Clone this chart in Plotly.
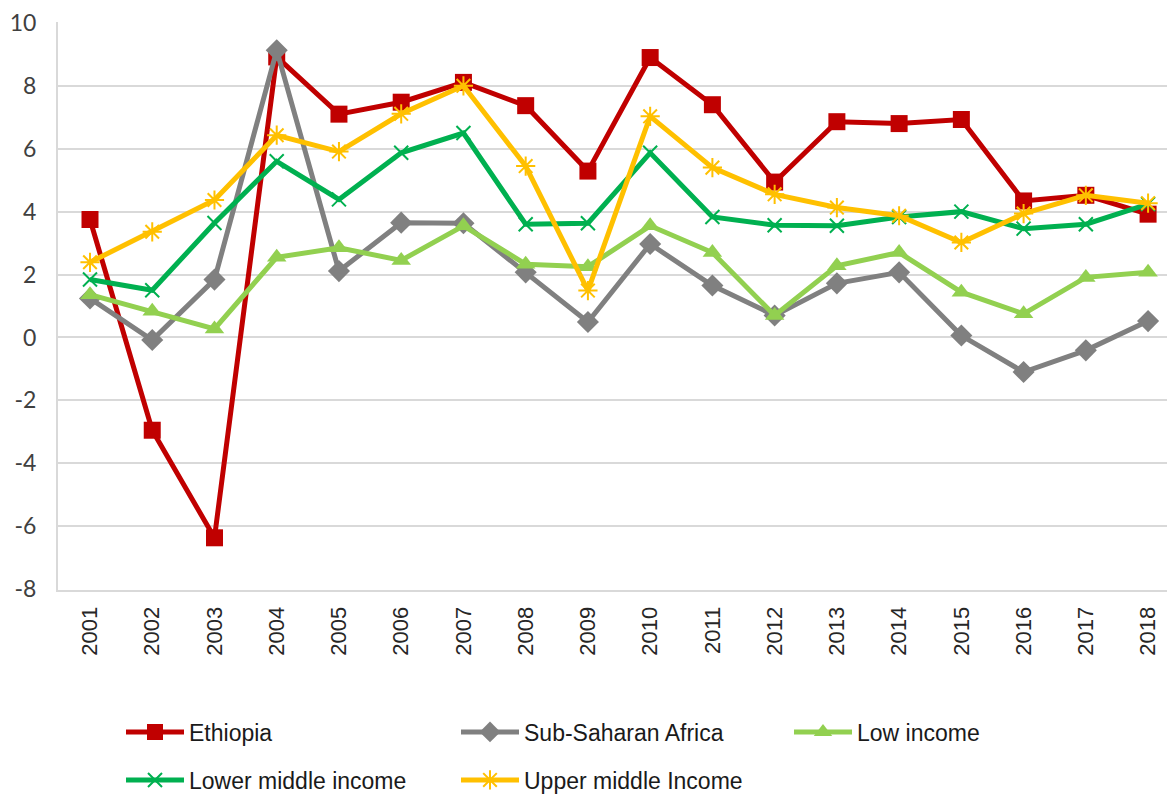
import plotly.graph_objects as go

years = [str(y) for y in range(2001, 2019)]

ethiopia = [3.75, -2.95, -6.37, 8.92, 7.10, 7.48, 8.11, 7.37, 5.29, 8.90, 7.40, 4.94, 6.86, 6.80, 6.93, 4.34, 4.52, 3.92]
ssa = [1.24, -0.08, 1.84, 9.13, 2.11, 3.65, 3.63, 2.07, 0.49, 2.97, 1.65, 0.70, 1.72, 2.07, 0.06, -1.10, -0.41, 0.52]
low_income = [1.36, 0.83, 0.27, 2.55, 2.85, 2.45, 3.55, 2.33, 2.25, 3.55, 2.70, 0.70, 2.28, 2.70, 1.44, 0.75, 1.91, 2.07]
lower_middle = [1.84, 1.50, 3.64, 5.60, 4.39, 5.87, 6.50, 3.60, 3.63, 5.87, 3.83, 3.57, 3.55, 3.83, 4.00, 3.46, 3.60, 4.24]
upper_middle = [2.39, 3.36, 4.37, 6.43, 5.91, 7.11, 8.00, 5.45, 1.49, 7.03, 5.40, 4.55, 4.13, 3.87, 3.02, 3.94, 4.52, 4.27]

y_tickvals = [-8, -6, -4, -2, 0, 2, 4, 6, 8, 10]
y_ticktext = ["-8", "-6", "-4", "-2", "0", "2", "4", "6", "8", "10"]

# the page body has an 8px margin, so the figure is drawn 8px right/down
OFF = 8
W, H = 1175 - OFF, 794 - OFF
L, R, T, B = 58 - OFF, 0, 22 - OFF, 794 - 590
pw = W - L - R
ph = H - T - B

def px_x(px):
    return (px - OFF - L) / pw

def px_y(py):
    return (H - B - (py - OFF)) / ph

series = [
    ("Ethiopia", ethiopia, "#C00000", dict(symbol="square", size=17), "legend", 129, 732),
    ("Sub-Saharan Africa", ssa, "#808080", dict(symbol="diamond", size=17), "legend2", 464, 732),
    ("Low income", low_income, "#92D050", dict(symbol="triangle-up", size=17), "legend3", 797, 732),
    ("Lower middle income", lower_middle, "#00B050", dict(symbol="x-thin", size=14, line=dict(width=2, color="#00B050")), "legend4", 129, 780),
    ("Upper middle Income", upper_middle, "#FFC000", dict(symbol="asterisk", size=16, line=dict(width=2, color="#FFC000")), "legend5", 464, 780),
]

fig = go.Figure()
legend_layouts = {}
for name, vals, color, marker, lg, lx, ly in series:
    m = dict(color=color, **marker)
    fig.add_trace(go.Scatter(
        x=years, y=vals, name=name, mode="lines+markers",
        line=dict(color=color, width=5),
        marker=m, cliponaxis=False, legend=lg,
    ))
    legend_layouts[lg] = dict(
        x=px_x(lx - 8), y=px_y(ly), xanchor="left", yanchor="middle",
        orientation="h", itemwidth=58, bgcolor="rgba(0,0,0,0)",
        font=dict(family="Liberation Sans, Arial, sans-serif", size=23, color="#1a1a1a"),
        itemclick=False, itemdoubleclick=False,
    )

spacing = 62.24
first = (90 - 58) / spacing
fig.update_layout(
    width=W, height=H,
    margin=dict(l=L, r=R, t=T, b=B, autoexpand=False),
    paper_bgcolor="white", plot_bgcolor="white",
    showlegend=True,
    xaxis=dict(
        type="category", range=[-first, pw / spacing - first],
        showgrid=False, zeroline=False, showline=True, linecolor="#D9D9D9", linewidth=2,
        ticks="",
        tickangle=-90,
        tickfont=dict(family="Liberation Sans, Arial, sans-serif", size=22, color="#262626"),
        ticklabelstandoff=6,
    ),
    yaxis=dict(
        range=[-8.03, 10.03], tickmode="array", tickvals=y_tickvals, ticktext=y_ticktext,
        showgrid=True, gridcolor="#D9D9D9", gridwidth=2,
        zeroline=False, showline=True, linecolor="#D9D9D9", linewidth=2,
        ticks="",
        tickfont=dict(family="Lato, Liberation Sans, sans-serif", size=23, color="#404040"),
        ticklabelstandoff=15, ticklabeloverflow="allow",
    ),
    **legend_layouts,
)

fig.write_html("out.html")
